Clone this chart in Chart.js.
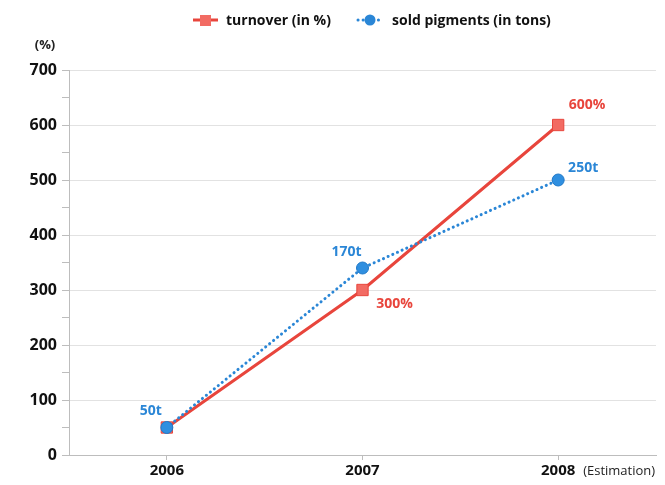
<!DOCTYPE html>
<html>
<head>
<meta charset="utf-8">
<script src="https://cdn.jsdelivr.net/npm/chart.js@4"></script>
<style>
  body { margin: 0; background: #fff; }
  #wrap { width: 665px; height: 485px; }
</style>
</head>
<body>
<div id="wrap"><canvas id="chart" width="665" height="485"></canvas></div>
<script>
// data
let years = ["2006", "2007", "2008"];
let turnover = [50, 300, 600];
let pigments = [50, 340, 500];
let turnoverLabels = ["", "300%", "600%"];
let pigmentLabels = ["50t", "170t", "250t"];

const RED = "#e8453c";
const BLUE = "#2a86d6";

// where each value label sits relative to its point
let turnoverOffsets = [[0, 0], [32, 14], [29, -20]];
let pigmentOffsets = [[-16, -16], [-16, -16], [25, -12]];

let labelsPlugin = {
    id: "pointLabels",
    afterDatasetsDraw(chart) {
        let ctx = chart.ctx;
        ctx.save();
        ctx.font = "bold 14px 'Open Sans', sans-serif";
        ctx.textAlign = "center";
        ctx.textBaseline = "middle";
        let sets = [[0, turnoverLabels, turnoverOffsets, RED], [1, pigmentLabels, pigmentOffsets, BLUE]];
        sets.forEach(([idx, texts, offs, color]) => {
            let meta = chart.getDatasetMeta(idx);
            ctx.fillStyle = color;
            meta.data.forEach((pt, i) => {
                if (!texts[i]) return;
                ctx.fillText(texts[i], pt.x + offs[i][0], pt.y + offs[i][1]);
            });
        });
        ctx.restore();
    }
};

let extrasPlugin = {
    id: "extras",
    afterDraw(chart) {
        let ctx = chart.ctx;
        ctx.save();
        // unit above the y axis
        ctx.font = "bold 13px 'Open Sans', sans-serif";
        ctx.fillStyle = "#222";
        ctx.textAlign = "center";
        ctx.textBaseline = "middle";
        ctx.fillText("(%)", 45, 45);

        // note next to the last category
        let xs = chart.scales.x;
        ctx.font = "13px 'Open Sans', sans-serif";
        ctx.textAlign = "left";
        ctx.fillText("(Estimation)", xs.getPixelForValue(2) + 25, 471);

        // legend
        let ly = 20;
        ctx.strokeStyle = RED;
        ctx.lineWidth = 3;
        ctx.beginPath();
        ctx.moveTo(193, ly);
        ctx.lineTo(218, ly);
        ctx.stroke();
        ctx.fillStyle = "#f26b63";
        ctx.fillRect(200, ly - 5, 11, 11);

        ctx.strokeStyle = BLUE;
        ctx.lineCap = "round";
        ctx.setLineDash([0.1, 5]);
        ctx.beginPath();
        ctx.moveTo(358, ly);
        ctx.lineTo(383, ly);
        ctx.stroke();
        ctx.setLineDash([]);
        ctx.fillStyle = BLUE;
        ctx.beginPath();
        ctx.arc(370, ly, 5.5, 0, Math.PI * 2);
        ctx.fill();

        ctx.fillStyle = "#111";
        ctx.font = "bold 14px 'Open Sans', sans-serif";
        ctx.textAlign = "left";
        ctx.fillText("turnover (in %)", 226, ly + 1);
        ctx.fillText("sold pigments (in tons)", 392, ly + 1);
        ctx.restore();
    }
};

function makeChart() {
    let designCanvas = document.getElementById("chart").getContext("2d");
    new Chart(designCanvas, {
        type: "line",
        data: {
            labels: years,
            datasets: [{
                label: "turnover (in %)",
                data: turnover,
                order: 1,
                borderColor: RED,
                borderWidth: 3,
                pointStyle: "rect",
                pointRadius: 8,
                pointBackgroundColor: "#f26b63",
                pointBorderColor: "#e8453c",
                pointBorderWidth: 1,
                tension: 0
            }, {
                label: "sold pigments (in tons)",
                data: pigments,
                order: 0,
                borderColor: BLUE,
                borderWidth: 3,
                borderDash: [0.1, 5],
                borderCapStyle: "round",
                pointStyle: "circle",
                pointRadius: 6,
                pointBackgroundColor: "#2f8fe0",
                pointBorderColor: "#1f78c8",
                pointBorderWidth: 1,
                tension: 0
            }]
        },
        options: {
            responsive: false,
            animation: false,
            layout: { padding: { top: 70, right: 0, left: 0, bottom: 0 } },
            plugins: {
                legend: { display: false },
                tooltip: { enabled: false }
            },
            scales: {
                x: {
                    offset: true,
                    afterFit(scale) { scale.height = 30; },
                    border: { color: "#bdbdbd", width: 1 },
                    grid: {
                        drawOnChartArea: false,
                        tickLength: 5,
                        tickColor: "#bdbdbd",
                        offset: false
                    },
                    ticks: {
                        color: "#111",
                        padding: 2,
                        font: { family: "'Open Sans', sans-serif", size: 15, weight: "bold" }
                    }
                },
                y: {
                    min: 0,
                    max: 700,
                    afterFit(scale) { scale.width = 69; },
                    border: { color: "#bdbdbd", width: 1 },
                    grid: {
                        color: (c) => (c.tick && c.tick.value % 100 === 0 ? "#e2e2e2" : "rgba(0,0,0,0)"),
                        tickColor: "#bdbdbd",
                        tickLength: 7
                    },
                    ticks: {
                        stepSize: 50,
                        color: "#111",
                        padding: 5,
                        font: { family: "'Open Sans', sans-serif", size: 16, weight: "bold" },
                        callback: (v) => (v % 100 === 0 ? v : "")
                    }
                }
            }
        },
        plugins: [labelsPlugin, extrasPlugin]
    });
}
makeChart();
</script>
</body>
</html>
